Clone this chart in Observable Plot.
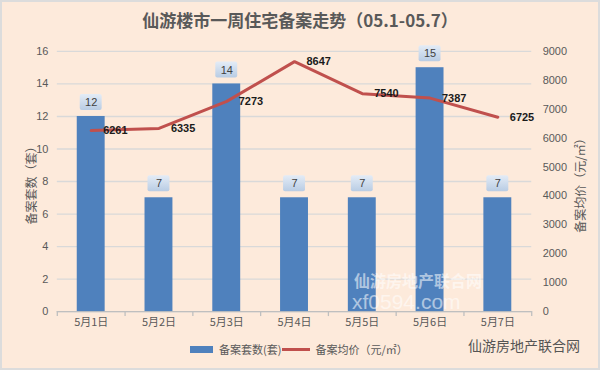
<!DOCTYPE html>
<html>
<head>
<meta charset="utf-8">
<script src="https://cdn.jsdelivr.net/npm/d3@7"></script>
<script src="https://cdn.jsdelivr.net/npm/@observablehq/plot@0.6"></script>
<style>
  html, body { margin: 0; padding: 0; }
  #wrap { position: relative; width: 600px; height: 370px; box-sizing: border-box; border: 2px solid #DCDCDC; background: #FDEADB; overflow: hidden; font-family: "Noto Sans CJK SC", "Liberation Sans", sans-serif; color: #595959; }
  #title { position: absolute; left: 0; top: 5px; width: 596px; text-align: center; font-size: 17px; font-weight: bold; color: #595959; }
  #chart { position: absolute; left: -2px; top: 36px; }
  .ytitle { position: absolute; font-size: 12px; color: #595959; white-space: nowrap; transform-origin: center; }
  #legend { position: absolute; top: 339px; left: 188px; font-size: 11px; color: #595959; display: flex; align-items: center; white-space: nowrap; }
  .sw { display: inline-block; }
  .wm { position: absolute; color: #fff; opacity: 0.55; font-weight: bold; white-space: nowrap; line-height: 1; }
  #footer { position: absolute; left: 466px; top: 333px; font-size: 14px; color: #555; white-space: nowrap; }
</style>
</head>
<body>
<div id="wrap">
  <div id="title">仙游楼市一周住宅备案走势（05.1-05.7）</div>
  <div id="chart"></div>
  <div class="ytitle" id="ylL" style="left:-14px; top:172px; transform: rotate(-90deg);">备案套数（套）</div>
  <div class="ytitle" id="ylR" style="left:527px; top:172px; transform: rotate(-90deg);">备案均价（元/㎡）</div>
  <div class="wm" style="left:352px; top:270px; font-size:16px;">仙游房地产联合网</div>
  <div class="wm" style="left:350px; top:289px; font-size:21px; font-weight:normal; font-family:'Liberation Sans';">xf0594.com</div>
  <div id="legend"></div>
  <div id="footer">仙游房地产联合网</div>
</div>
<script>
const days = ["5月1日", "5月2日", "5月3日", "5月4日", "5月5日", "5月6日", "5月7日"];
const counts = [12, 7, 14, 7, 7, 15, 7];
const prices = [6261, 6335, 7273, 8647, 7540, 7387, 6725];
const leftTicks = [0, 2, 4, 6, 8, 10, 12, 14, 16];
const rightTicks = [0, 1000, 2000, 3000, 4000, 5000, 6000, 7000, 8000, 9000];
const seriesNames = ["备案套数(套)", "备案均价（元/㎡）"];

const k = 16 / 9000; // right axis -> left axis units
const data = days.map((d, i) => ({day: d, count: counts[i], price: prices[i]}));

const W = 600, mL = 57, mR = 67;
const step = (W - mL - mR) / days.length;
const font = "'Liberation Sans', 'Noto Sans CJK SC', sans-serif";

const chart = Plot.plot({
  width: W, height: 302,
  marginTop: 13, marginBottom: 28, marginLeft: mL, marginRight: mR,
  style: {background: "transparent", fontSize: "11px", color: "#595959", fontFamily: font},
  x: {domain: days, paddingInner: 0.59, paddingOuter: 0.295},
  y: {domain: [0, 16]},
  marks: [
    Plot.gridY(leftTicks, {stroke: "#D9D9D9", strokeOpacity: 1, strokeWidth: 1.3}),
    Plot.axisY(leftTicks, {tickSize: 0, tickPadding: 9, label: null}),
    Plot.axisY(rightTicks.map(v => v * k), {anchor: "right", tickSize: 0, tickPadding: 11, label: null,
      tickFormat: d => String(Math.round(d / k))}),
    Plot.axisX({tickSize: 0, tickPadding: 7, label: null, fontFamily: "'Noto Sans CJK SC', sans-serif"}),
    Plot.ruleY([0], {stroke: "#BFBFBF", strokeWidth: 1.3}),
    Plot.ruleX(days, {x: d => d, dx: -step / 2, y1: 0, y2: 0, insetBottom: -5, stroke: "#BFBFBF", strokeWidth: 1.3}),
    Plot.ruleX(days.slice(-1), {x: d => d, dx: step / 2, y1: 0, y2: 0, insetBottom: -5, stroke: "#BFBFBF", strokeWidth: 1.3}),
    Plot.barY(data, {x: "day", y: "count", fill: "#4F81BD"}),
    Plot.barY(data, {x: "day", y1: "count", y2: "count", insetTop: -22, insetBottom: 6, insetLeft: 3, insetRight: 3, rx: 2, fill: "url(#lblgrad)"}),
    Plot.text(data, {x: "day", y: "count", text: d => String(d.count), dy: -14, fill: "#404040", fontSize: 11}),
    Plot.lineY(data, {x: "day", y: d => d.price * k, stroke: "#C0504D", strokeWidth: 3}),
    Plot.text(data, {x: "day", y: d => d.price * k, text: d => String(d.price), dx: 12, textAnchor: "start", fontWeight: "bold", fill: "#1a1a1a", fontSize: 11})
  ]
});

const defs = d3.select(chart).insert("defs", ":first-child");
const g = defs.append("linearGradient").attr("id", "lblgrad").attr("x1", 0).attr("y1", 0).attr("x2", 0).attr("y2", 1);
g.append("stop").attr("offset", "0%").attr("stop-color", "#E4ECF6");
g.append("stop").attr("offset", "100%").attr("stop-color", "#B8CCE4");

document.getElementById("chart").appendChild(chart);

const lg = document.getElementById("legend");
lg.innerHTML =
  `<span class="sw" style="width:23px;height:7px;background:#4F81BD;margin-right:6px"></span><span>${seriesNames[0]}</span>` +
  `<span class="sw" style="width:28px;height:3px;background:#C0504D;margin:0 5px 0 1px"></span><span>${seriesNames[1]}</span>`;
</script>
</body>
</html>
